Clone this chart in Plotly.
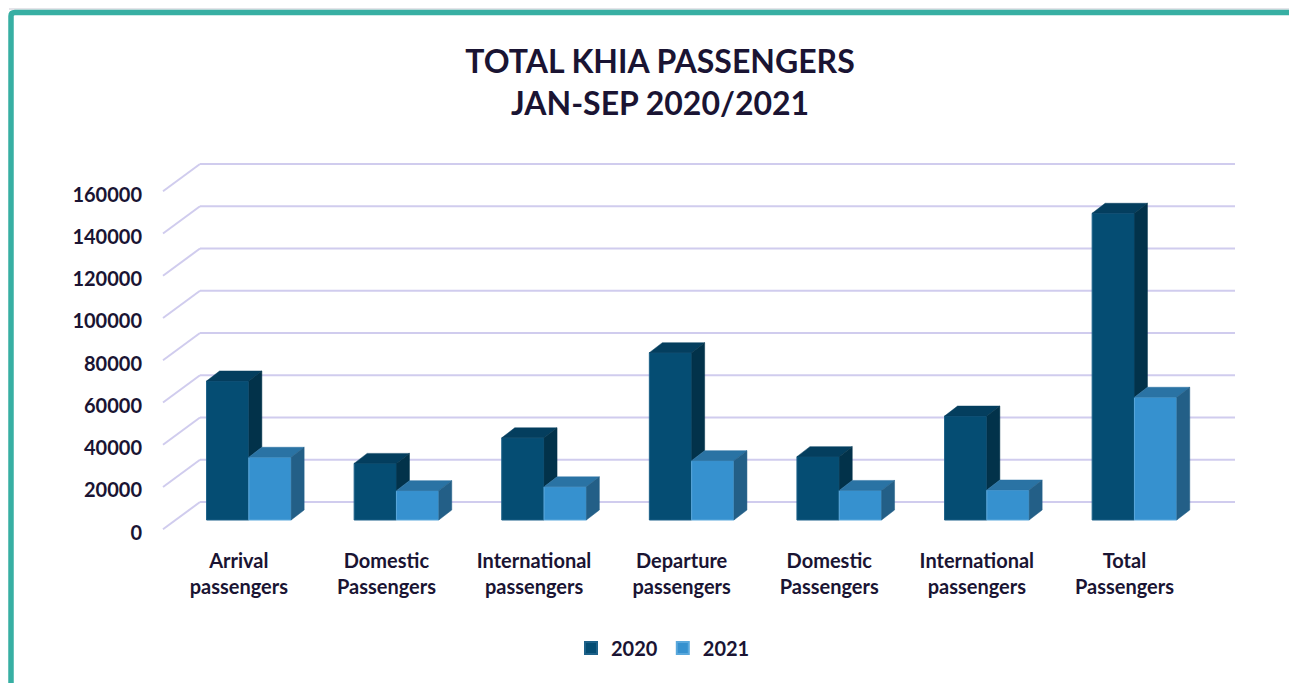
import numpy as np
import plotly.graph_objects as go

# ---------------- data ----------------
categories = ["Arrival<br>passengers", "Domestic<br>Passengers", "International<br>passengers",
              "Departure<br>passengers", "Domestic<br>Passengers", "International<br>passengers",
              "Total<br>Passengers"]
series_names = ["2020", "2021"]
values_2020 = [65800, 26800, 38900, 79200, 30000, 49200, 145200]
values_2021 = [29700, 13900, 15700, 28100, 14000, 14200, 58100]
y_ticks = [0, 20000, 40000, 60000, 80000, 100000, 120000, 140000, 160000]

# ---------------- styling / geometry (page pixels) ----------------
OFF = 8                          # default body margin of the html page
W_PX, H_PX = 1297 - OFF, 683 - OFF
PLOT_L, PLOT_R, PLOT_T, PLOT_B = 160, 1235, 150, 535   # plot area, page pixels
Y0_PX = 520                      # page row of value 0 on the bar front plane
KY = 42.25 / 20000               # pixels per unit (y)
KX = 147.6                       # pixels per category
X0_PX = 248.85                   # page column of category 0
BAR_W = 42.3 / KX
DDX = 13 / KX                    # bar depth offset (x, categories)
DDY = 10 / KY                    # bar depth offset (y, units)
WALL_DY = 18 / KY                # back wall offset above bar plane
FRONT_DY = -9.3 / KY             # floor front edge below bar plane
LABEL_DY = -12.5 / KY            # tick label centre
WALL_X0 = (200 - X0_PX) / KX
FRONT_X0 = (163 - X0_PX) / KX
LABEL_SHIFT = 10 / KX

x_range = [(PLOT_L - X0_PX) / KX, (PLOT_R - X0_PX) / KX]
y_range = [(Y0_PX - PLOT_B) / KY, (Y0_PX - PLOT_T) / KY]

FONT = "Lato"
TXT = "#1a1433"
GRID = "#d0ccee"
TEAL = "#37afa3"

col_front = ["#054d73", "#3691cf"]
col_top = ["#043e5e", "#2a73a4"]
col_side = ["#02324a", "#235f87"]
col_edge = ["#1d6189", "#5aa8dc"]

idx = np.arange(len(categories))
fig = go.Figure()

series = [values_2020, values_2021]
offsets = [-BAR_W, 0.0]

for s, (vals, off) in enumerate(zip(series, offsets)):
    fig.add_trace(go.Bar(
        x=idx, y=vals, width=BAR_W, offset=off, name=f"<b>{series_names[s]}</b>",
        marker=dict(color=col_front[s], line=dict(color=col_edge[s], width=1)),
        showlegend=True,
    ))
    tx, ty, sx, sy = [], [], [], []
    for i, v in enumerate(vals):
        x0 = i + off
        x1 = x0 + BAR_W
        # top face
        tx += [x0, x1, x1 + DDX, x0 + DDX, x0, None]
        ty += [v, v, v + DDY, v + DDY, v, None]
        # side face (only the part not hidden by the next bar)
        base = 0
        if s == 0:
            base = min(values_2021[i], v)
        sx += [x1, x1, x1 + DDX, x1 + DDX, x1, None]
        sy += [base, v, v + DDY, base + DDY, base, None]
    fig.add_trace(go.Scatter(x=tx, y=ty, fill="toself", fillcolor=col_top[s], mode="lines",
                             line=dict(color=col_top[s], width=0.5), showlegend=False, hoverinfo="skip"))
    fig.add_trace(go.Scatter(x=sx, y=sy, fill="toself", fillcolor=col_side[s], mode="lines",
                             line=dict(color=col_side[s], width=0.5), showlegend=False, hoverinfo="skip"))

# back-wall gridlines and left diagonals
shapes = []
for t in y_ticks:
    shapes.append(dict(type="line", xref="x", yref="y", x0=WALL_X0, x1=x_range[1],
                       y0=t + WALL_DY, y1=t + WALL_DY, line=dict(color=GRID, width=2), layer="below"))
    shapes.append(dict(type="line", xref="x", yref="y", x0=FRONT_X0, x1=WALL_X0,
                       y0=t + FRONT_DY, y1=t + WALL_DY, line=dict(color=GRID, width=2), layer="below"))

# page pixel -> paper coordinates
def px_x(p):
    return (p - PLOT_L) / (PLOT_R - PLOT_L)

def px_y(p):
    return (PLOT_B - p) / (PLOT_B - PLOT_T)

# outer frame (teal)
shapes.append(dict(type="line", xref="paper", yref="paper", x0=px_x(9), x1=px_x(1310),
                   y0=px_y(9), y1=px_y(9), line=dict(color="#c9c9d3", width=1), layer="above"))
shapes.append(dict(type="path", xref="paper", yref="paper",
                   path=f"M {px_x(11)},{px_y(690)} L {px_x(11)},{px_y(16)} Q {px_x(11)},{px_y(12.5)} {px_x(15)},{px_y(12.5)} L {px_x(1310)},{px_y(12.5)}",
                   line=dict(color=TEAL, width=5.5), layer="above"))

fig.update_layout(
    width=W_PX, height=H_PX,
    margin=dict(l=PLOT_L - OFF, r=(1297 - PLOT_R), t=PLOT_T - OFF, b=(683 - PLOT_B)),
    paper_bgcolor="white", plot_bgcolor="white",
    barmode="overlay",
    font=dict(family=FONT, color=TXT, size=20),
    title=dict(text="<b>TOTAL KHIA PASSENGERS<br>JAN-SEP 2020/2021</b>",
               x=px_x(660), xref="paper", xanchor="center",
               y=1 - 65 / H_PX, yref="container", yanchor="top",
               font=dict(family=FONT, size=32, color=TXT)),
    xaxis=dict(range=x_range, tickvals=idx - LABEL_SHIFT,
               ticktext=[f"<b>{c}</b>" for c in categories],
               showgrid=False, zeroline=False, showline=False, ticks="",
               ticklabelstandoff=12, tickfont=dict(size=20, family=FONT, color=TXT)),
    yaxis=dict(range=y_range, tickvals=[t + LABEL_DY for t in y_ticks],
               ticktext=[f"<b>{t}</b>" for t in y_ticks],
               showgrid=False, zeroline=False, showline=False, ticks="",
               ticklabelstandoff=17, tickfont=dict(size=20, family=FONT, color=TXT)),
    legend=dict(orientation="h", x=px_x(663), xanchor="center", y=px_y(648), yanchor="middle",
                font=dict(size=20, family=FONT, color=TXT), itemwidth=30,
                itemsizing="constant", traceorder="normal"),
    shapes=shapes,
)

fig.write_html("out.html")
